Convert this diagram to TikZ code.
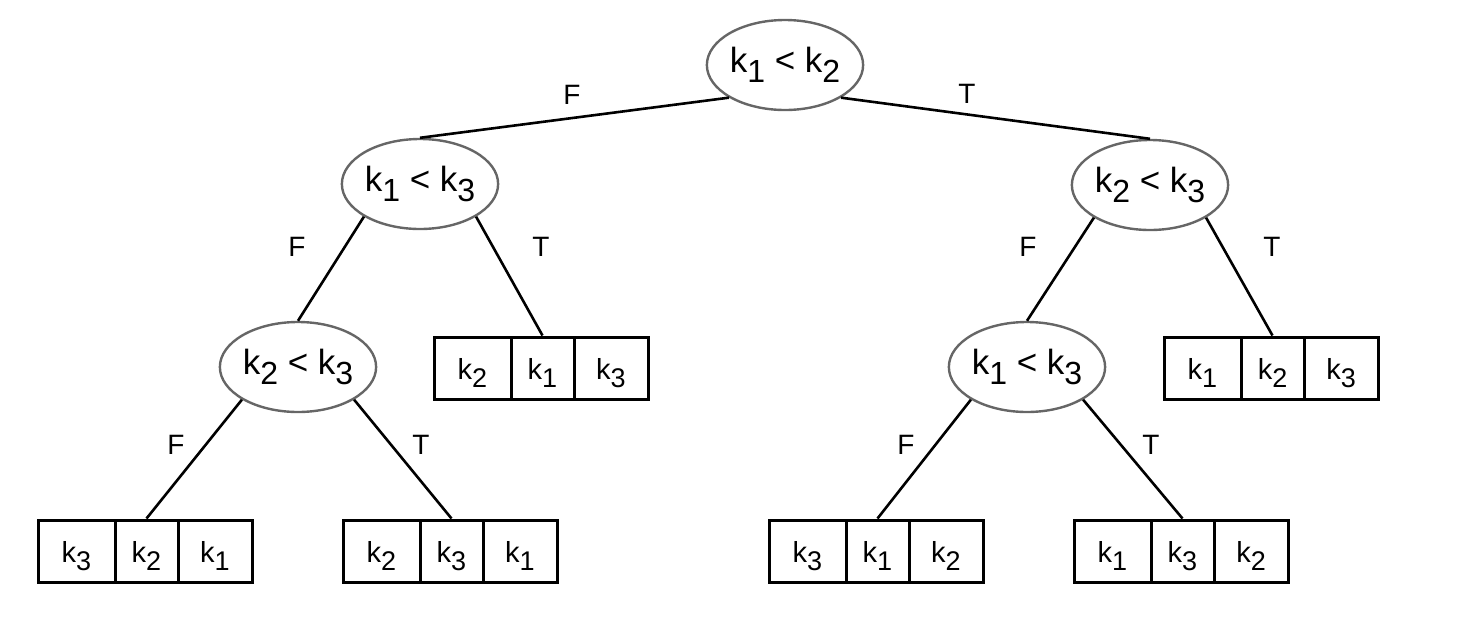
\documentclass[tikz,border=0pt]{standalone}
\usepackage{fontspec}
\setmainfont{Liberation Sans}
\usetikzlibrary{shapes.geometric}

\definecolor{testgray}{HTML}{666666}

% subscripts are set nearly full size and lowered
\newcommand{\cmpsub}[1]{\raisebox{-0.3em}{\fontsize{16}{17}\selectfont #1}}
\newcommand{\cmp}[2]{\fontsize{17.5}{19}\selectfont k\cmpsub{#1} < k\cmpsub{#2}}
\newcommand{\cellkey}[1]{\raisebox{-2.5pt}[\height][\depth]{\fontsize{14.5}{16}\selectfont k\raisebox{-0.28em}{\fontsize{13.5}{15}\selectfont #1}}}

% a three-cell result box: name, left edge x, centre y, three key indices
\newcommand{\keybox}[6]{%
  \node[cell=38.5pt] (#1a) at (#2+38.5,#3)  {\cellkey{#4}};
  \node[cell=31.5pt] (#1b) at (#2+108.5,#3) {\cellkey{#5}};
  \node[cell=37pt]   (#1c) at (#2+177,#3)   {\cellkey{#6}};
}

\begin{document}
\begin{tikzpicture}[x=0.5pt,y=-0.5pt,
  test/.style={ellipse, draw=testgray, line width=1.2pt, minimum width=76.5pt,
               minimum height=45pt, inner sep=0pt},
  cell/.style={rectangle, draw=black, line width=1.5pt, minimum height=31pt,
               minimum width=#1, inner sep=0pt},
  branch/.style={draw=black, line width=1.3pt},
  lab/.style={inner sep=0pt, font=\fontsize{14}{15}\selectfont}]
\useasboundingbox (0,0) rectangle (1464,622);

% comparison nodes
\node[test] (root) at (785,65)   {\cmp{1}{2}};
\node[test] (L)    at (420,184)  {\cmp{1}{3}};
\node[test] (R)    at (1150,185) {\cmp{2}{3}};
\node[test] (LL)   at (298,367)  {\cmp{2}{3}};
\node[test] (RL)   at (1027,367) {\cmp{1}{3}};

% orderings at the leaves
\keybox{LT}{434}{368}{2}{1}{3}
\keybox{RT}{1164}{368}{1}{2}{3}
\keybox{LLF}{38}{551}{3}{2}{1}
\keybox{LLT}{343}{551}{2}{3}{1}
\keybox{RLF}{769}{551}{3}{1}{2}
\keybox{RLT}{1074}{551}{1}{3}{2}

% branches
\draw[branch] (root.south west) -- (L.north);
\draw[branch] (root.south east) -- (R.north);
\draw[branch] (L.south west) -- (LL.north);
\draw[branch] (L.south east) -- (LTb.north);
\draw[branch] (R.south west) -- (RL.north);
\draw[branch] (R.south east) -- (RTb.north);
\draw[branch] (LL.south west) -- (LLFb.north);
\draw[branch] (LL.south east) -- (LLTb.north);
\draw[branch] (RL.south west) -- (RLFb.north);
\draw[branch] (RL.south east) -- (RLTb.north);

% branch labels
\node[lab] (fRoot) at (572,95)  {F};
\node[lab] (tRoot) at (967,94)  {T};
\node[lab] (fL)    at (297,247) {F};
\node[lab] (tL)    at (541,247) {T};
\node[lab] (fR)    at (1028,247) {F};
\node[lab] (tR)    at (1272,247) {T};
\node[lab] (fLL)   at (176,445) {F};
\node[lab] (tLL)   at (421,445) {T};
\node[lab] (fRL)   at (906,445) {F};
\node[lab] (tRL)   at (1151,445) {T};
\end{tikzpicture}
\end{document}
